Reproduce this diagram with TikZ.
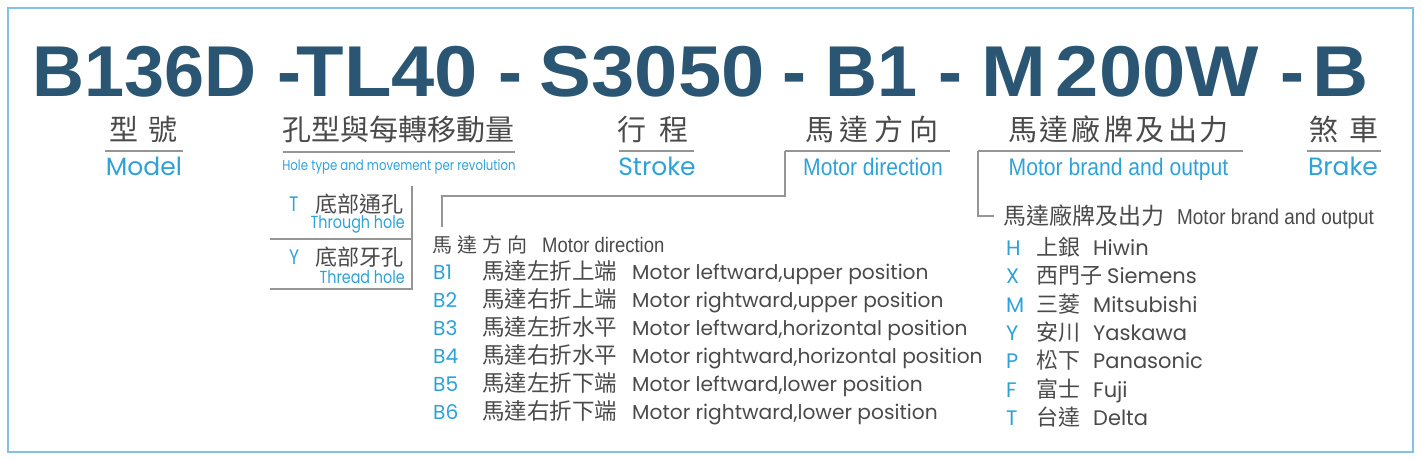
\documentclass[tikz,border=0pt]{standalone}
\usepackage{fontspec}
\setmainfont{Poppins}
\newfontfamily\cjk{Noto Sans CJK TC}
\newfontfamily\cond[FakeStretch=0.88]{Liberation Sans}
\newfontfamily\narrow[FakeStretch=0.82]{Poppins}
\newfontfamily\codefont{Liberation Sans}
\newfontfamily\codewide[FakeStretch=1.08]{Liberation Sans}
\usetikzlibrary{positioning}
\definecolor{codeblue}{HTML}{2A5573}
\definecolor{lblue}{HTML}{2DA2DA}
\definecolor{txtgray}{HTML}{4A4A4A}
\definecolor{linegray}{HTML}{959595}
\definecolor{frameblue}{HTML}{84C2E3}
\newcommand{\dirrow}[3]{\makebox[49pt][l]{\textcolor{lblue}{#1}}{\cjk\fontsize{22.5}{22.5}\selectfont #2}\hspace{15pt}#3}
\newcommand{\brandrow}[4][13pt]{\makebox[30pt][l]{\textcolor{lblue}{#2}}{\cjk\fontsize{22}{22}\selectfont #3}\hspace{#1}#4}
\tikzset{
    codetxt/.style={anchor=base west, inner sep=0pt, text=codeblue, font=\fontsize{72}{72}\codefont\bfseries},
    widetxt/.style={codetxt, font=\fontsize{72}{72}\codewide\bfseries},
    headtxt/.style={anchor=base, inner sep=0pt, text=txtgray, font=\fontsize{29}{29}\cjk},
    subtxt/.style={anchor=base, inner sep=0pt, text=lblue, font=\fontsize{25}{25}\selectfont},
    csubtxt/.style={anchor=base, inner sep=0pt, text=lblue, font=\fontsize{24}{24}\cond},
    itemtxt/.style={anchor=base west, inner sep=0pt, text=txtgray, font=\fontsize{20.2}{20.2}\selectfont},
    uline/.style={draw=linegray, line width=1.2pt},
    boxframe/.style={draw=frameblue, line width=2pt}
}

\begin{document}
\begin{tikzpicture}[x=1pt, y=-1pt]
    \useasboundingbox (0,0) rectangle (1422,460);
    \draw[boxframe] (8,8) rectangle (1413,452);

    % code line
    \node[codetxt] (mdl) at (32,96) {B136D};
    \node[codetxt] (h1) at (277,96) {-};
    \node[widetxt] (hole) at (296.5,96) {TL40};
    \node[codetxt] (s1) at (498,96) {-};
    \node[widetxt] (strk) at (539.5,96) {S3050};
    \node[codetxt] (s2) at (782.5,96) {-};
    \node[codetxt] (dirc) at (825,96) {B1};
    \node[codetxt] (s3) at (938.5,96) {-};
    \node[widetxt] (mot) at (981,96) {M\hspace{10pt}200W};
    \node[codetxt] (s4) at (1280.5,96) {-};
    \node[widetxt] (brk) at (1312,96) {B};

    % headings
    \node[headtxt] (mdlh) at (143.5,140.5) {型\hspace{11pt}號};
    \node[headtxt] (holeh) at (398,140.5) {孔型與每轉移動量};
    \node[headtxt] (strkh) at (653,140.5) {行\hspace{14pt}程};
    \node[headtxt] (dirh) at (872,140.5) {馬\hspace{6pt}達\hspace{6pt}方\hspace{6pt}向};
    \node[headtxt] (moth) at (1118.5,140.5) {馬\hspace{3pt}達\hspace{3pt}廠\hspace{3pt}牌\hspace{3pt}及\hspace{3pt}出\hspace{3pt}力};
    \node[headtxt] (brkh) at (1344,140.5) {煞\hspace{12pt}車};

    \node[subtxt] (mdls) at (144,175.5) {Model};
    \node[anchor=base, inner sep=0pt, text=lblue, font=\fontsize{14.3}{14.3}\narrow] (holes) at (399,170) {Hole type and movement per revolution};
    \node[subtxt] (strks) at (657,175.5) {Stroke};
    \node[csubtxt] (dirs) at (873,175.5) {Motor direction};
    \node[csubtxt] (mots) at (1118.5,175.5) {Motor brand and output};
    \node[subtxt] (brks) at (1343,175.5) {Brake};

    \coordinate (mdlA) at (105,151);  \coordinate (mdlB) at (183,151);
    \coordinate (holeA) at (283,152); \coordinate (holeB) at (515,152);
    \coordinate (strkA) at (619,151); \coordinate (strkB) at (694,151);
    \coordinate (dirA) at (785,151);  \coordinate (dirB) at (950,151);
    \coordinate (motA) at (978,151);  \coordinate (motB) at (1243,151);
    \coordinate (brkA) at (1307,151); \coordinate (brkB) at (1381,151);
    \draw[uline] (mdlA) -- (mdlB);
    \draw[uline] (holeA) -- (holeB);
    \draw[uline] (strkA) -- (strkB);
    \draw[uline] (dirA) -- (dirB);
    \draw[uline] (motA) -- (motB);
    \draw[uline] (brkA) -- (brkB);

    % hole type table
    \node[anchor=base west, inner sep=0pt, text=lblue, font=\fontsize{21}{21}\narrow] (tT) at (289,211.5) {T};
    \node[anchor=base west, inner sep=0pt, text=txtgray, font=\fontsize{22}{22}\cjk] (tTc) at (315,212) {底部通孔};
    \node[anchor=base east, inner sep=0pt, text=lblue, font=\fontsize{17.5}{17.5}\narrow] (tTe) at (405,228) {Through hole};
    \node[anchor=base west, inner sep=0pt, text=lblue, font=\fontsize{21}{21}\narrow] (tY) at (289,264.5) {Y};
    \node[anchor=base west, inner sep=0pt, text=txtgray, font=\fontsize{22}{22}\cjk] (tYc) at (315,265) {底部牙孔};
    \node[anchor=base east, inner sep=0pt, text=lblue, font=\fontsize{17.5}{17.5}\narrow] (tYe) at (405,283) {Thread hole};
    \coordinate (tblTop) at (412,186);
    \coordinate (tblMid) at (412,239);
    \coordinate (tblBot) at (412,289);
    \coordinate (tblMidL) at (270,239);
    \coordinate (tblBotL) at (270,289);
    \draw[uline] (tblTop) -- (tblBot) -- (tblBotL);
    \draw[uline] (tblMidL) -- (tblMid);

    % motor direction list
    \coordinate (dirK) at (442,196);
    \coordinate (dirE) at (442,227);
    \draw[uline] (dirA) |- (dirK) -- (dirE);
    \node[anchor=base west, inner sep=0pt, text=txtgray] (dirl) at (432,252)
        {{\cjk\fontsize{20}{20}\selectfont 馬\hspace{5pt}達\hspace{5pt}方\hspace{5pt}向}\hspace{15pt}{\cond\fontsize{21}{21}\selectfont Motor direction}};
    \node[itemtxt] (b1) at (433,279) {\dirrow{B1}{馬達左折上端}{Motor leftward,upper position}};
    \node[itemtxt] (b2) at (433,307) {\dirrow{B2}{馬達右折上端}{Motor rightward,upper position}};
    \node[itemtxt] (b3) at (433,335) {\dirrow{B3}{馬達左折水平}{Motor leftward,horizontal position}};
    \node[itemtxt] (b4) at (433,363) {\dirrow{B4}{馬達右折水平}{Motor rightward,horizontal position}};
    \node[itemtxt] (b5) at (433,391) {\dirrow{B5}{馬達左折下端}{Motor leftward,lower position}};
    \node[itemtxt] (b6) at (433,419) {\dirrow{B6}{馬達右折下端}{Motor rightward,lower position}};

    % motor brand list
    \coordinate (motK) at (978,216);
    \coordinate (motE) at (994,216);
    \draw[uline] (motA) |- (motK) -- (motE);
    \node[anchor=base west, inner sep=0pt, text=txtgray] (motl) at (1003,224)
        {{\cjk\fontsize{23}{23}\selectfont 馬達廠牌及出力}\hspace{13pt}{\cond\fontsize{21.5}{21.5}\selectfont Motor brand and output}};
    \node[itemtxt, font=\fontsize{21}{21}\selectfont] (bh) at (1006,255) {\brandrow{H}{上銀}{Hiwin}};
    \node[itemtxt, font=\fontsize{21}{21}\selectfont] (bx) at (1006,283.5) {\brandrow[5pt]{X}{西門子}{Siemens}};
    \node[itemtxt, font=\fontsize{21}{21}\selectfont] (bm) at (1006,312) {\brandrow{M}{三菱}{Mitsubishi}};
    \node[itemtxt, font=\fontsize{21}{21}\selectfont] (by) at (1006,340) {\brandrow{Y}{安川}{Yaskawa}};
    \node[itemtxt, font=\fontsize{21}{21}\selectfont] (bp) at (1006,368.5) {\brandrow{P}{松下}{Panasonic}};
    \node[itemtxt, font=\fontsize{21}{21}\selectfont] (bf) at (1006,397) {\brandrow{F}{富士}{Fuji}};
    \node[itemtxt, font=\fontsize{21}{21}\selectfont] (bt) at (1006,425) {\brandrow{T}{台達}{Delta}};
\end{tikzpicture}
\end{document}
